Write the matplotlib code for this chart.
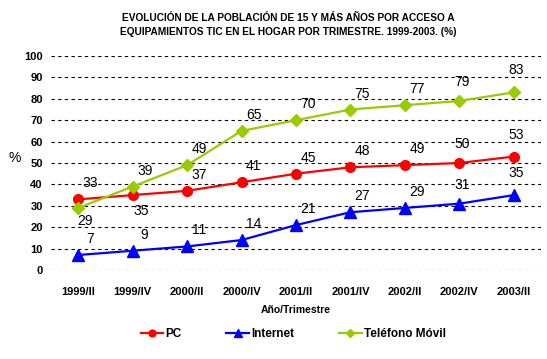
import matplotlib.pyplot as plt
import matplotlib as mpl

mpl.rcParams['font.family'] = ['Liberation Sans', 'DejaVu Sans']

quarters = ['1999/II', '1999/IV', '2000/II', '2000/IV', '2001/II',
            '2001/IV', '2002/II', '2002/IV', '2003/II']
pc = [33, 35, 37, 41, 45, 48, 49, 50, 53]
internet = [7, 9, 11, 14, 21, 27, 29, 31, 35]
movil = [29, 39, 49, 65, 70, 75, 77, 79, 83]

series = [
    ('PC', pc, '#ff0000', 'o', 7),
    ('Internet', internet, '#0000ff', '^', 8),
    ('Teléfono Móvil', movil, '#99cc00', 'D', 6.5),
]

# label offsets in pixels (right, up)
default_off = (12, 16)
index_off = {7: (3, 19), 8: (2, 22)}
below_off = {('PC', 1): (8, -16), ('Teléfono Móvil', 0): (7, -13)}

fig = plt.figure(figsize=(5.47, 3.59), dpi=100)
ax = fig.add_axes([51 / 547, 89 / 359, 490 / 547, 214 / 359])

x = list(range(len(quarters)))
ax.set_xlim(-0.5, len(quarters) - 0.5)
ax.set_ylim(0, 100)
ax.set_yticks(range(0, 101, 10))
ax.set_xticks(x)
ax.set_xticklabels(quarters)
ax.grid(axis='y', color='black', linestyle=(0, (3, 3)), linewidth=0.8)
ax.set_axisbelow(True)
for s in ax.spines.values():
    s.set_visible(False)
ax.tick_params(length=0, labelsize=8, pad=6)
for lab in ax.get_xticklabels() + ax.get_yticklabels():
    lab.set_fontweight('bold')
ax.tick_params(axis='x', pad=12)

for name, vals, col, mk, ms in series:
    ax.plot(x, vals, color=col, linewidth=1.6, marker=mk, markersize=ms,
            markeredgecolor=col, label=name, clip_on=False, zorder=3)
    for i, v in enumerate(vals):
        dx, dy = below_off.get((name, i), index_off.get(i, default_off))
        ax.annotate(str(v), (i, v), xytext=(dx, dy), textcoords='offset pixels',
                    ha='center', va='center', fontsize=10, zorder=4)

ax.set_ylabel('%', rotation=0, fontsize=10, labelpad=0)
ax.yaxis.set_label_coords(-0.075, 0.49)
ax.set_xlabel('Año/Trimestre', fontsize=7.5, fontweight='bold', labelpad=6)

fig.text(0.527, 0.929, 'EVOLUCIÓN DE LA POBLACIÓN DE 15 Y MÁS AÑOS POR ACCESO A\n'
         'EQUIPAMIENTOS TIC EN EL HOGAR POR TRIMESTRE. 1999-2003. (%)',
         ha='center', va='center', fontsize=7.3, fontweight='bold', linespacing=1.5)

handles, labels = ax.get_legend_handles_labels()
leg = fig.legend(handles, labels, loc='center', bbox_to_anchor=(0.536, 0.07), ncol=3,
                 frameon=False, handlelength=1.9, handletextpad=0.2,
                 columnspacing=3.8, markerscale=0.7,
                 prop={'size': 8.5, 'weight': 'bold'})

fig.savefig('out.png', dpi=100)
